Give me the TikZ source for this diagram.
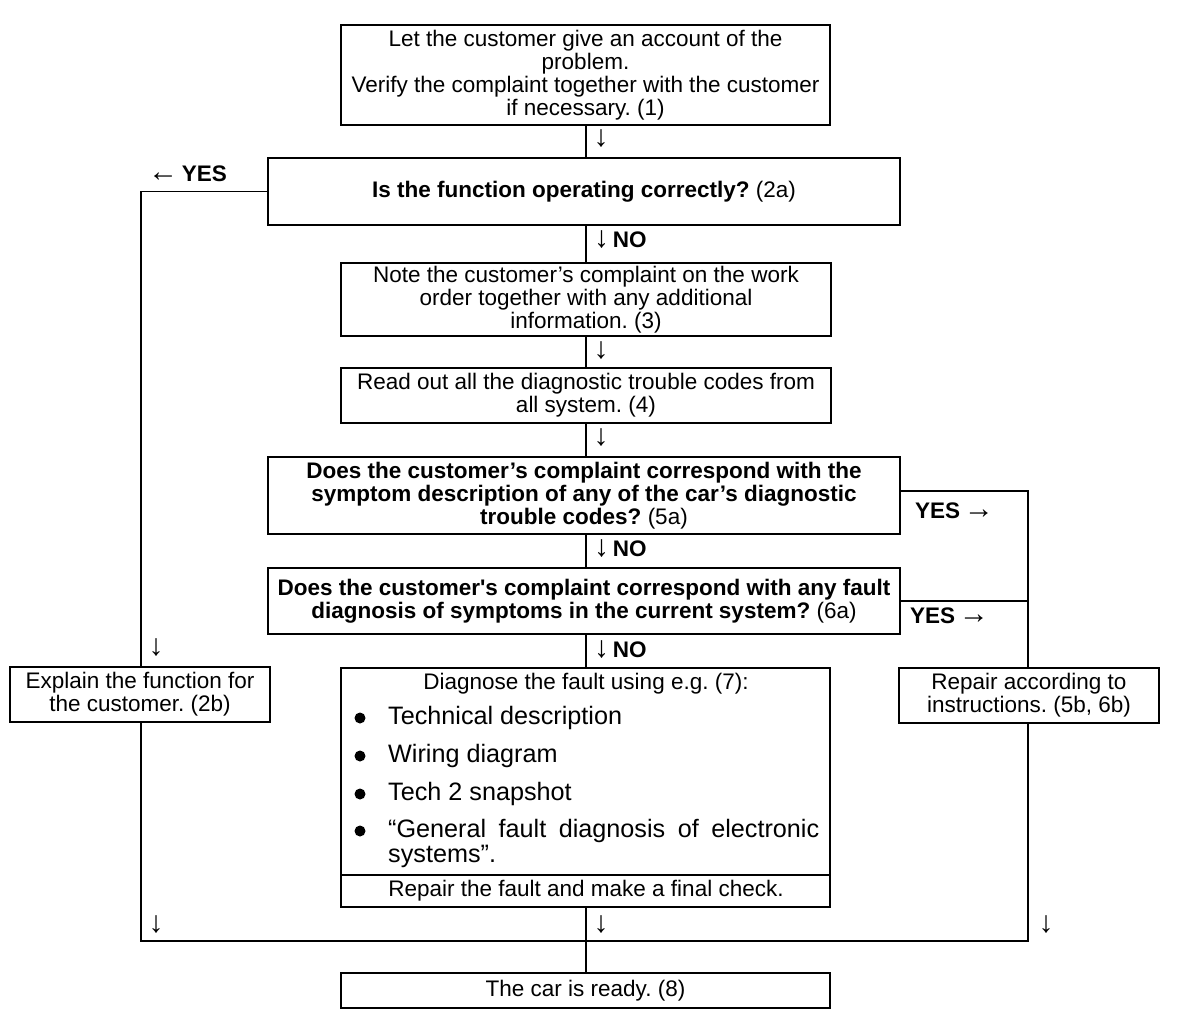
\documentclass[tikz,border=0pt]{standalone}
\usepackage{fontspec}
\setmainfont{Liberation Sans}
\frenchspacing
\newcommand{\fsz}{\fontsize{22.5}{23.2}\selectfont}
\newcommand{\fbul}{\fontsize{25.2}{25}\selectfont}
\newcommand{\arr}[1]{{\fontsize{30}{30}\selectfont #1}}
\begin{document}
\begin{tikzpicture}[x=1pt,y=-1pt,
  box/.style={draw,line width=1.8pt,fill=white,inner sep=0pt,align=center,font=\fsz},
  ln/.style={line width=1.8pt},
  lab/.style={font=\fsz\bfseries,inner sep=0pt},
  txt/.style={font=\fsz,inner sep=0pt},
  bul/.style={font=\fbul,inner sep=0pt,anchor=west,align=left},
  dot/.style={circle,fill=black,inner sep=0pt,minimum size=11pt}]
\useasboundingbox (0,0) rectangle (1184,1034);

\coordinate (cx) at (586,0);
\coordinate (jl) at (141,941);
\coordinate (jr) at (1028,941);
\coordinate (jc) at (586,941);
\coordinate (dv) at (0,875);

% boxes
\node[box,minimum width=489pt,minimum height=100pt] (b1) at (585.5,75)
  {Let the customer give an account of the\\problem.\\Verify the complaint together with the customer\\if necessary. (1)};
\node[box,minimum width=632pt,minimum height=67pt] (b2a) at (584,191.5)
  {\textbf{Is the function operating correctly?} (2a)};
\node[box,minimum width=490pt,minimum height=73pt] (b3) at (586,299.5)
  {Note the customer’s complaint on the work\\order together with any additional\\information. (3)};
\node[box,minimum width=490pt,minimum height=55pt] (b4) at (586,395.5)
  {Read out all the diagnostic trouble codes from\\all system. (4)};
\node[box,minimum width=632pt,minimum height=77pt] (b5a) at (584,495.5)
  {\textbf{Does the customer’s complaint correspond with the}\\\textbf{symptom description of any of the car’s diagnostic}\\\textbf{trouble codes?} (5a)};
\node[box,minimum width=632pt,minimum height=66pt] (b6a) at (584,601)
  {\textbf{Does the customer\textquotesingle s complaint correspond with any fault}\\\textbf{diagnosis of symptoms in the current system?} (6a)};
\node[box,minimum width=260pt,minimum height=55pt] (expl) at (140,694.5)
  {Explain the function for\\the customer. (2b)};
\node[box,minimum width=260pt,minimum height=55pt] (rep) at (1029,695.5)
  {Repair according to\\instructions. (5b, 6b)};
\node[box,minimum width=489pt,minimum height=239pt] (b7) at (585.5,787.5) {};
\node[box,minimum width=489pt,minimum height=35pt] (b8) at (585.5,990.5)
  {The car is ready. (8)};

% contents of box 7
\node[txt] (h7) at (586,684) {Diagnose the fault using e.g. (7):};
\node[dot] (d1) at (360,718) {};
\node[bul] (i1) at (388,718) {Technical description};
\node[dot] (d2) at (360,756) {};
\node[bul] (i2) at (388,756) {Wiring diagram};
\node[dot] (d3) at (360,794) {};
\node[bul] (i3) at (388,794) {Tech 2 snapshot};
\node[dot] (d4) at (360,831) {};
\node[bul] (i4) at (388,843.5) {\makebox[431pt][s]{“General fault diagnosis of electronic}\\systems”.};
\draw[line width=1.2pt] (b7.west |- dv) -- (b7.east |- dv);
\node[txt] (r7) at (586,891) {Repair the fault and make a final check.};

% main vertical connectors
\draw[ln] (b1.south -| cx) -- (b2a.north -| cx);
\draw[ln] (b2a.south -| cx) -- (b3.north -| cx);
\draw[ln] (b3.south -| cx) -- (b4.north -| cx);
\draw[ln] (b4.south -| cx) -- (b5a.north -| cx);
\draw[ln] (b5a.south -| cx) -- (b6a.north -| cx);
\draw[ln] (b6a.south -| cx) -- (b7.north -| cx);
\draw[ln] (b7.south -| cx) -- (jc) -- (b8.north -| cx);

% left branch
\draw[ln] (b2a.west) -| (expl.north -| jl);
\draw[ln] (expl.south -| jl) -- (jl) -- (jr) -- (rep.south -| jr);

% right branches
\draw[ln] ([yshift=4.5pt]b5a.east) -| (rep.north -| jr);
\draw[ln] (b6a.east) -- (b6a.east -| jr);

% labels
\node[lab,anchor=west] (yesl) at (148,174) {\arr{←}\,YES};
\node[lab,anchor=west] (no1) at (594,240) {\arr{↓}\,NO};
\node[lab,anchor=west] (no2) at (594,549) {\arr{↓}\,NO};
\node[lab,anchor=west] (no3) at (594,650) {\arr{↓}\,NO};
\node[lab,anchor=west] (yes5) at (915,511) {YES\,\arr{→}};
\node[lab,anchor=west] (yes6) at (910,616) {YES\,\arr{→}};
\node[txt] (a1) at (601,139) {\arr{↓}};
\node[txt] (a2) at (601,351) {\arr{↓}};
\node[txt] (a3) at (601,438) {\arr{↓}};
\node[txt] (a4) at (156,648) {\arr{↓}};
\node[txt] (a5) at (156,925) {\arr{↓}};
\node[txt] (a6) at (601,925) {\arr{↓}};
\node[txt] (a7) at (1046,925) {\arr{↓}};
\end{tikzpicture}
\end{document}
